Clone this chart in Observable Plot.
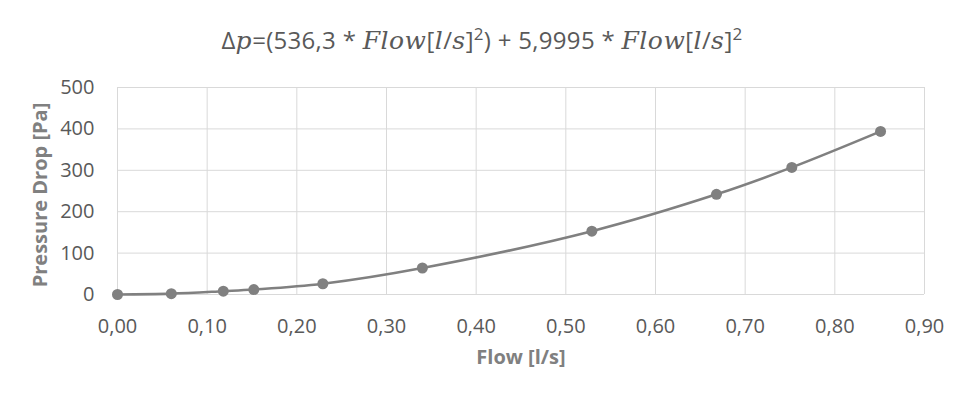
<!DOCTYPE html>
<html>
<head>
<meta charset="utf-8">
<script src="https://cdn.jsdelivr.net/npm/d3@7"></script>
<script src="https://cdn.jsdelivr.net/npm/@observablehq/plot@0.6"></script>
<style>
  html, body { margin: 0; padding: 0; background: #fff; }
  #wrap { width: 964px; height: 397px; position: relative; overflow: hidden; }
  #title { height: 60px; line-height: 80px; text-align: center; color: #595959;
           font-family: "Open Sans", sans-serif; font-size: 24px; white-space: nowrap; letter-spacing: 0.3px; }
  #title i { font-family: "DejaVu Serif", serif; font-style: italic; font-size: 25px; letter-spacing: 0.5px; }
  #title sup { font-size: 17px; line-height: 0; }
</style>
</head>
<body>
<div id="wrap">
  <div id="title">Δ<i>p</i>=(536,3 * <i>Flow</i>[<i>l</i>/<i>s</i>]<sup>2</sup>) + 5,9995 * <i>Flow</i>[<i>l</i>/<i>s</i>]<sup>2</sup></div>
  <div id="chart"></div>
</div>
<script>
const flow = [0.000, 0.060, 0.118, 0.152, 0.229, 0.340, 0.529, 0.668, 0.752, 0.851];
const pressureDrop = [0, 2, 8, 12, 26, 64, 153, 242, 307, 394];
const xTicks = [0, 0.1, 0.2, 0.3, 0.4, 0.5, 0.6, 0.7, 0.8, 0.9];
const yTicks = [0, 100, 200, 300, 400, 500];
const xLabel = "Flow [l/s]";
const yLabel = "Pressure Drop [Pa]";

const data = flow.map((f, i) => ({flow: f, dp: pressureDrop[i]}));
const fmt = d => d.toFixed(2).replace(".", ",");
const grey = "#808080";

const chart = Plot.plot({
  width: 964,
  height: 337,
  marginTop: 27,
  marginBottom: 103,
  marginLeft: 117,
  marginRight: 40,
  style: {fontFamily: "'Open Sans', sans-serif", fontSize: "20px", color: "#595959", background: "#fff", overflow: "visible"},
  x: {domain: [0, 0.9]},
  y: {domain: [0, 500]},
  marks: [
    Plot.gridX(xTicks, {stroke: "#d9d9d9", strokeOpacity: 1, strokeWidth: 1}),
    Plot.gridY(yTicks, {stroke: "#d9d9d9", strokeOpacity: 1, strokeWidth: 1}),
    Plot.axisX(xTicks, {tickSize: 0, tickPadding: 24, tickFormat: fmt, label: null, fill: "#595959", fontSize: 20}),
    Plot.axisY(yTicks, {tickSize: 0, tickPadding: 23, label: null, fill: "#595959", fontSize: 20}),
    Plot.line(data, {x: "flow", y: "dp", stroke: grey, strokeWidth: 2.6, curve: "catmull-rom"}),
    Plot.dot(data, {x: "flow", y: "dp", fill: grey, r: 5.5, stroke: null}),
    Plot.text([xLabel], {frameAnchor: "bottom", dy: 69, text: d => d, fontWeight: "bold", fontSize: 20, fill: grey}),
    Plot.text([yLabel], {frameAnchor: "left", dx: -77, dy: 4, rotate: -90, textAnchor: "middle", text: d => d, fontWeight: "bold", fontSize: 20, fill: grey})
  ]
});
document.getElementById("chart").append(chart);
</script>
</body>
</html>
